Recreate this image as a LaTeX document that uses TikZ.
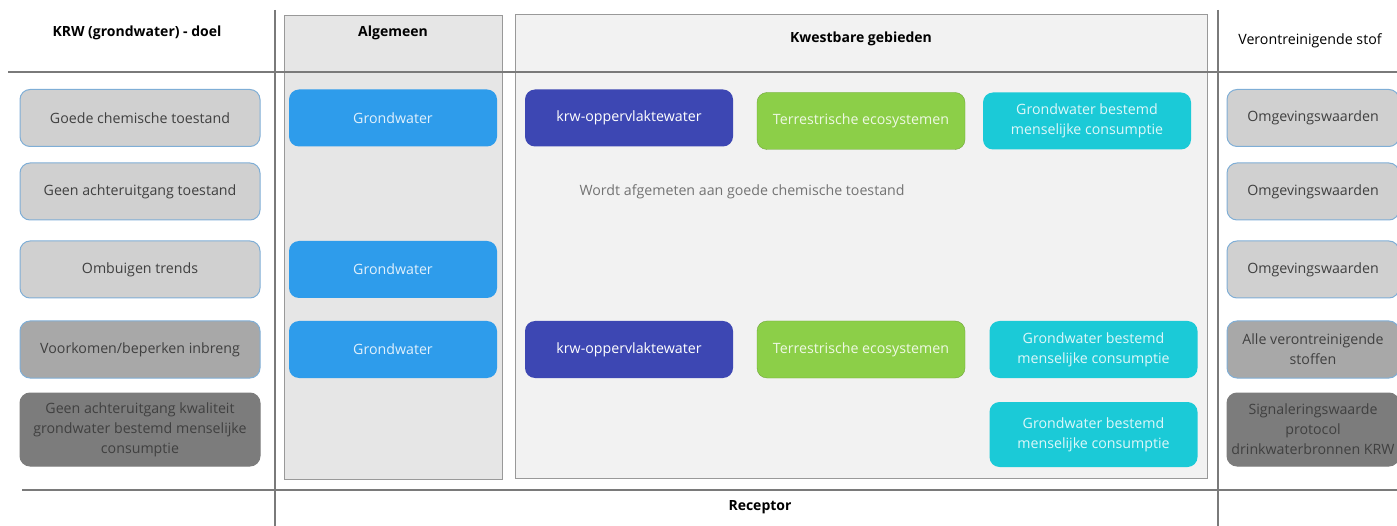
\documentclass[tikz,border=0pt]{standalone}
\usepackage{fontspec}
\setmainfont{Open Sans}
\usetikzlibrary{positioning}

\definecolor{doelgrey}{HTML}{D0D0D0}
\definecolor{midgrey}{HTML}{A8A8A8}
\definecolor{darkgrey}{HTML}{7C7C7C}
\definecolor{rimblue}{HTML}{7FAED6}
\definecolor{gwblue}{HTML}{2E9CEB}
\definecolor{krwblue}{HTML}{3D47B3}
\definecolor{terrgreen}{HTML}{8CCF48}
\definecolor{gwcyan}{HTML}{1BCAD7}
\definecolor{panelgrey}{HTML}{E6E6E6}
\definecolor{panellight}{HTML}{F2F2F2}
\definecolor{rulegrey}{HTML}{7A7A7A}

\begin{document}
\begin{tikzpicture}[
  x=1pt, y=-1pt,
  font=\fontsize{14.2}{20}\selectfont,
  box/.style={rectangle, rounded corners=10pt, align=center, inner sep=2pt, minimum width=208pt, minimum height=57pt},
  doelbox/.style={box, draw=rimblue, line width=1pt, fill=doelgrey, text=black!75, minimum width=240pt},
  stofbox/.style={doelbox, minimum width=172pt},
  gwbox/.style={box, fill=gwblue, text=white!85!gwblue},
  krwbox/.style={box, fill=krwblue, text=white},
  terrbox/.style={box, draw=terrgreen!80!black, fill=terrgreen, text=white!85!terrgreen},
  consbox/.style={box, fill=gwcyan, text=white!85!gwcyan},
  kop/.style={font=\fontsize{14}{17}\selectfont\bfseries},
  rule/.style={draw=rulegrey, line width=2.2pt},
  ]
  \path[use as bounding box, clip] (0,0) rectangle (1397,526);

  % panels
  \draw[fill=panelgrey, draw=black!40, line width=1pt] (284,16) rectangle (502,479);
  \draw[fill=panellight, draw=black!40, line width=1pt] (515,15) rectangle (1207,478);

  % grid lines
  \draw[rule] (8,72) -- (1397,72);
  \draw[rule] (22,490) -- (1397,490);
  \draw[rule, line width=1.8pt] (275,10) -- (275,526);
  \draw[rule, line width=1.5pt] (1218,10) -- (1218,526);

  % headings
  \node[kop] (kopdoel) at (137,33) {KRW (grondwater) - doel};
  \node[kop] (kopalg) at (393,33) {Algemeen};
  \node[kop] (kopkwetsbaar) at (861,39) {Kwestbare gebieden};
  \node (kopstof) at (1310,41) {Verontreinigende stof};
  \node[kop] (kopreceptor) at (760,507) {Receptor};

  % doelen
  \node[doelbox] (doel1) at (140,118) {Goede chemische toestand};
  \node[doelbox] (doel2) at (140,191.5) {Geen achteruitgang toestand};
  \node[doelbox] (doel3) at (140,269.5) {Ombuigen trends};
  \node[doelbox, fill=midgrey] (doel4) at (140,349.5) {Voorkomen/beperken inbreng};
  \node[doelbox, fill=darkgrey, draw=darkgrey, minimum height=73pt] (doel5) at (140,429.5)
    {Geen achteruitgang kwaliteit\\ grondwater bestemd menselijke\\ consumptie};

  % algemeen
  \node[gwbox] (alg1) at (393,118) {Grondwater};
  \node[gwbox] (alg3) at (393,269.5) {Grondwater};
  \node[gwbox] (alg4) at (393,349.5) {Grondwater};

  % kwetsbare gebieden
  \node[krwbox] (krw1) at (629,118) {krw-oppervlaktewater};
  \node[terrbox] (terr1) at (861,121) {Terrestrische ecosystemen};
  \node[consbox] (cons1) at (1087,121) {Grondwater bestemd\\ menselijke consumptie};
  \node[text=black!55, anchor=west] (meting) at (576,192) {Wordt afgemeten aan goede chemische toestand};
  \node[krwbox] (krw4) at (629,349.5) {krw-oppervlaktewater};
  \node[terrbox] (terr4) at (861,349.5) {Terrestrische ecosystemen};
  \node[consbox] (cons4) at (1093.5,349.5) {Grondwater bestemd\\ menselijke consumptie};
  \node[consbox, minimum height=65pt] (cons5) at (1093.5,434.5) {Grondwater bestemd\\ menselijke consumptie};

  % verontreinigende stof
  \node[stofbox] (stof1) at (1313,118) {Omgevingswaarden};
  \node[stofbox] (stof2) at (1313,191.5) {Omgevingswaarden};
  \node[stofbox] (stof3) at (1313,269.5) {Omgevingswaarden};
  \node[stofbox, fill=midgrey] (stof4) at (1313,349.5) {Alle verontreinigende\\ stoffen};
  \node[stofbox, fill=darkgrey, draw=darkgrey, minimum height=73pt] (stof5) at (1313,429.5)
    {Signaleringswaarde\\ protocol\\ drinkwaterbronnen KRW};
\end{tikzpicture}
\end{document}
